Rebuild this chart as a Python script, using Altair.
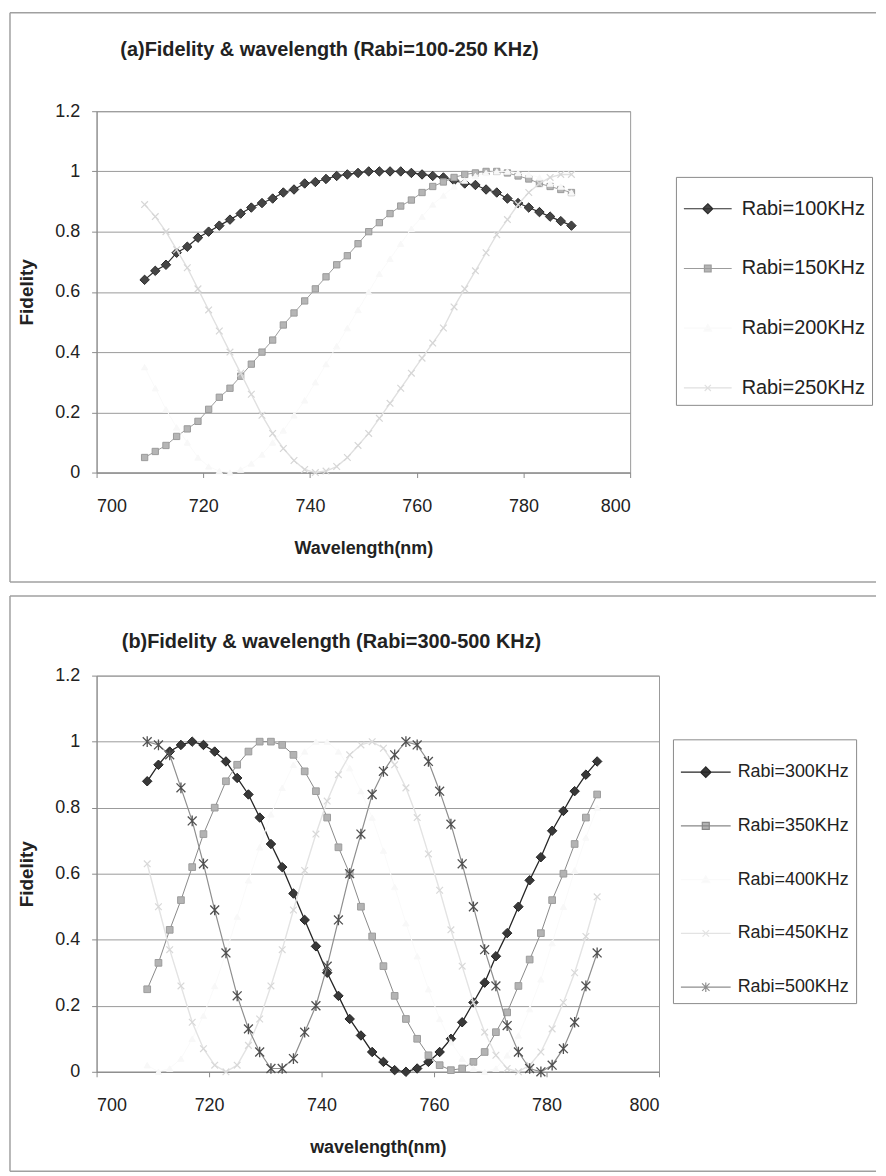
import altair as alt
import pandas as pd

FONT = "Liberation Sans"

# ---------------- data ----------------
wavelengths = [709, 711, 713, 715, 717, 719, 721, 723, 725, 727,
               729, 731, 733, 735, 737, 739, 741, 743, 745, 747,
               749, 751, 753, 755, 757, 759, 761, 763, 765, 767,
               769, 771, 773, 775, 777, 779, 781, 783, 785, 787, 789]

# panel (a)
rabi_100 = [0.64, 0.67, 0.69, 0.73, 0.75, 0.78, 0.80, 0.82, 0.84, 0.86,
            0.88, 0.895, 0.91, 0.93, 0.94, 0.96, 0.965, 0.975, 0.985, 0.99,
            0.995, 1.0, 1.0, 1.0, 1.0, 0.995, 0.99, 0.985, 0.98, 0.97,
            0.96, 0.955, 0.94, 0.93, 0.91, 0.895, 0.88, 0.865, 0.85, 0.835, 0.82]
rabi_150 = [0.05, 0.07, 0.09, 0.12, 0.145, 0.17, 0.21, 0.25, 0.28, 0.32,
            0.36, 0.40, 0.44, 0.49, 0.53, 0.57, 0.61, 0.65, 0.69, 0.72,
            0.76, 0.80, 0.83, 0.86, 0.885, 0.905, 0.93, 0.95, 0.965, 0.98,
            0.99, 0.995, 1.0, 1.0, 0.995, 0.985, 0.975, 0.96, 0.95, 0.94, 0.93]
rabi_200 = [0.35, 0.28, 0.21, 0.15, 0.10, 0.05, 0.02, 0.005, 0.0, 0.01,
            0.03, 0.06, 0.10, 0.14, 0.19, 0.24, 0.30, 0.36, 0.42, 0.48,
            0.54, 0.60, 0.66, 0.71, 0.76, 0.81, 0.85, 0.89, 0.92, 0.95,
            0.97, 0.985, 0.995, 1.0, 1.0, 0.995, 0.99, 0.98, 0.96, 0.95, 0.93]
rabi_250 = [0.89, 0.85, 0.80, 0.74, 0.68, 0.61, 0.54, 0.47, 0.40, 0.33,
            0.26, 0.19, 0.13, 0.08, 0.04, 0.01, 0.0, 0.005, 0.02, 0.05,
            0.09, 0.13, 0.18, 0.23, 0.28, 0.33, 0.38, 0.43, 0.48, 0.55,
            0.61, 0.67, 0.73, 0.79, 0.84, 0.89, 0.93, 0.96, 0.98, 0.99, 0.99]

# panel (b)
rabi_300 = [0.88, 0.93, 0.97, 0.99, 1.0, 0.99, 0.97, 0.94, 0.89, 0.84,
            0.77, 0.69, 0.62, 0.54, 0.46, 0.38, 0.30, 0.23, 0.16, 0.11,
            0.06, 0.03, 0.005, 0.0, 0.01, 0.03, 0.06, 0.10, 0.15, 0.21,
            0.27, 0.35, 0.42, 0.50, 0.58, 0.65, 0.73, 0.79, 0.85, 0.90, 0.94]
rabi_350 = [0.25, 0.33, 0.43, 0.52, 0.62, 0.72, 0.80, 0.88, 0.93, 0.97,
            1.0, 1.0, 0.99, 0.96, 0.91, 0.85, 0.77, 0.68, 0.60, 0.50,
            0.41, 0.32, 0.23, 0.16, 0.10, 0.05, 0.02, 0.005, 0.01, 0.03,
            0.06, 0.12, 0.18, 0.26, 0.34, 0.42, 0.52, 0.60, 0.69, 0.77, 0.84]
rabi_400 = [0.02, 0.0, 0.01, 0.04, 0.10, 0.17, 0.26, 0.36, 0.47, 0.58,
            0.68, 0.78, 0.86, 0.93, 0.97, 1.0, 1.0, 0.97, 0.92, 0.85,
            0.77, 0.67, 0.56, 0.45, 0.35, 0.25, 0.16, 0.09, 0.04, 0.01,
            0.0, 0.01, 0.05, 0.11, 0.19, 0.28, 0.39, 0.50, 0.61, 0.71, 0.80]
rabi_450 = [0.63, 0.50, 0.37, 0.26, 0.15, 0.07, 0.02, 0.0, 0.02, 0.08,
            0.16, 0.26, 0.37, 0.49, 0.61, 0.72, 0.82, 0.90, 0.96, 0.99,
            1.0, 0.98, 0.93, 0.86, 0.77, 0.66, 0.55, 0.43, 0.32, 0.21,
            0.12, 0.05, 0.01, 0.0, 0.02, 0.06, 0.13, 0.21, 0.30, 0.41, 0.53]
rabi_500 = [1.0, 0.99, 0.96, 0.86, 0.76, 0.63, 0.49, 0.36, 0.23, 0.13,
            0.06, 0.01, 0.01, 0.04, 0.12, 0.20, 0.32, 0.46, 0.60, 0.72,
            0.84, 0.91, 0.96, 1.0, 0.99, 0.94, 0.85, 0.75, 0.63, 0.50,
            0.37, 0.26, 0.14, 0.06, 0.01, 0.0, 0.02, 0.07, 0.15, 0.26, 0.36]

names_a = ["Rabi=100KHz", "Rabi=150KHz", "Rabi=200KHz", "Rabi=250KHz"]
values_a = [rabi_100, rabi_150, rabi_200, rabi_250]
names_b = ["Rabi=300KHz", "Rabi=350KHz", "Rabi=400KHz", "Rabi=450KHz", "Rabi=500KHz"]
values_b = [rabi_300, rabi_350, rabi_400, rabi_450, rabi_500]

x_ticks = [700, 720, 740, 760, 780, 800]
y_ticks = [0, 0.2, 0.4, 0.6, 0.8, 1.0, 1.2]

# ---------------- styles ----------------
DIAMOND = "M0,-1L1,0L0,1L-1,0Z"
XMARK = "M-1,-1L1,1M-1,1L1,-1"
STAR = "M-1,-1L1,1M-1,1L1,-1M0,-1.2L0,1.2"

LEG_DIAMOND = "M-1,0L1,0M0,-0.21L0.21,0L0,0.21L-0.21,0Z"
LEG_SQUARE = "M-1,0L1,0M-0.14,-0.14L0.14,-0.14L0.14,0.14L-0.14,0.14Z"
LEG_TRI = "M-1,0L1,0M0,-0.16L0.16,0.12L-0.16,0.12Z"
LEG_X = "M-1,0L1,0M-0.13,-0.13L0.13,0.13M-0.13,0.13L0.13,-0.13"
LEG_STAR = "M-1,0L1,0M-0.15,-0.15L0.15,0.15M-0.15,0.15L0.15,-0.15M0,-0.19L0,0.19"

styles = {
    "Rabi=100KHz": dict(line="#2e2e2e", lw=1.2, shape=DIAMOND, size=90, filled=True, fill="#454545", stroke="#2a2a2a", sw=1, leg=LEG_DIAMOND),
    "Rabi=150KHz": dict(line="#9c9c9c", lw=1.0, shape="square", size=40, filled=True, fill="#b5b5b5", stroke="#9a9a9a", sw=1, leg=LEG_SQUARE),
    "Rabi=200KHz": dict(line="#fafafa", lw=1.0, shape="triangle-up", size=40, filled=True, fill="#f8f8f8", stroke="#f8f8f8", sw=1, leg=LEG_TRI),
    "Rabi=250KHz": dict(line="#e0e0e0", lw=1.4, shape=XMARK, size=45, filled=False, fill="#d6d6d6", stroke="#d6d6d6", sw=1.2, leg=LEG_X),
    "Rabi=300KHz": dict(line="#262626", lw=1.3, shape=DIAMOND, size=90, filled=True, fill="#383838", stroke="#222222", sw=1, leg=LEG_DIAMOND),
    "Rabi=350KHz": dict(line="#888888", lw=1.0, shape="square", size=45, filled=True, fill="#b3b3b3", stroke="#9c9c9c", sw=1, leg=LEG_SQUARE),
    "Rabi=400KHz": dict(line="#fafafa", lw=1.0, shape="triangle-up", size=40, filled=True, fill="#f8f8f8", stroke="#f8f8f8", sw=1, leg=LEG_TRI),
    "Rabi=450KHz": dict(line="#e3e3e3", lw=1.4, shape=XMARK, size=45, filled=False, fill="#d8d8d8", stroke="#d8d8d8", sw=1.2, leg=LEG_X),
    "Rabi=500KHz": dict(line="#8e8e8e", lw=1.2, shape=STAR, size=80, filled=False, fill="#555555", stroke="#505050", sw=1.3, leg=LEG_STAR),
}


def long_frame(names, values):
    rows = []
    for n, vals in zip(names, values):
        for w, v in zip(wavelengths, vals):
            rows.append({"wavelength": w, "fidelity": v, "series": n})
    return pd.DataFrame(rows)


def make_panel(names, values, W, H, title, title_x, title_y, xtitle,
               leg_x, leg_y, leg_font, leg_sym, leg_rowpad, leg_offset,
               box_top, box_bottom, box_left, box_right):
    df = long_frame(names, values)
    x = alt.X("wavelength:Q",
              scale=alt.Scale(domain=[700, 800], nice=False, zero=False),
              axis=alt.Axis(values=x_ticks, format="d", title=xtitle, grid=False,
                            domainColor="#8a8a8a", tickColor="#8a8a8a", tickSize=5,
                            labelFont=FONT, labelFontSize=18, labelColor="#222",
                            labelPadding=20,
                            titleFont=FONT, titleFontSize=18, titleFontWeight="bold",
                            titleColor="#222", titleX=W / 2, titleY=76,
                            titleBaseline="middle", titleAlign="center"))
    y = alt.Y("fidelity:Q",
              scale=alt.Scale(domain=[0, 1.2], nice=False),
              axis=alt.Axis(values=y_ticks, format="~g", title="Fidelity", grid=True,
                            gridColor="#9a9a9a", gridWidth=1,
                            domainColor="#8a8a8a", tickColor="#8a8a8a", tickSize=5,
                            labelFont=FONT, labelFontSize=18, labelColor="#222",
                            labelPadding=12,
                            titleFont=FONT, titleFontSize=19, titleFontWeight="bold",
                            titleColor="#222", titleX=-70, titleY=H / 2,
                            titleBaseline="middle", titleAlign="center"))
    layers = []
    for n in names:
        st = styles[n]
        base = alt.Chart(df).transform_filter(alt.datum.series == n)
        layers.append(base.mark_line(color=st["line"], strokeWidth=st["lw"]).encode(x=x, y=y))
        if st["filled"]:
            pm = base.mark_point(shape=st["shape"], filled=True, fill=st["fill"], stroke=st["stroke"],
                                 strokeWidth=st["sw"], size=st["size"], opacity=1)
        else:
            pm = base.mark_point(shape=st["shape"], filled=False, color=st["stroke"],
                                 strokeWidth=st["sw"], size=st["size"], opacity=1)
        layers.append(pm.encode(x=x, y=y))

    legend = alt.Legend(title=None, orient="none", legendX=leg_x, legendY=leg_y,
                        labelFont=FONT, labelFontSize=leg_font, labelColor="#222",
                        symbolSize=leg_sym, symbolStrokeWidth=1.2, rowPadding=leg_rowpad,
                        labelOffset=leg_offset, strokeColor="#8a8a8a", fillColor="white",
                        padding=7, labelLimit=300)
    leg_layer = alt.Chart(df).transform_filter("datum.fidelity > 5").mark_point(filled=True, opacity=1).encode(
        x=x, y=y,
        shape=alt.Shape("series:N", scale=alt.Scale(domain=names, range=[styles[n]["leg"] for n in names]), legend=legend),
        fill=alt.Fill("series:N", scale=alt.Scale(domain=names, range=[styles[n]["fill"] for n in names]), legend=legend),
        stroke=alt.Stroke("series:N", scale=alt.Scale(domain=names, range=[styles[n]["line"] for n in names]), legend=legend),
    )
    layers.append(leg_layer)

    one = pd.DataFrame({"k": [0]})
    deco = alt.Chart(one)
    title_mark = deco.mark_text(font=FONT, fontSize=20, fontWeight="bold", color="#222",
                                align="center", baseline="middle").encode(
        x=alt.value(title_x), y=alt.value(title_y), text=alt.value(title))
    top_rule = deco.mark_rule(color="#a0a0a0", strokeWidth=1.5).encode(
        x=alt.value(box_left), x2=alt.value(box_right), y=alt.value(box_top))
    bottom_rule = deco.mark_rule(color="#a0a0a0", strokeWidth=1.5).encode(
        x=alt.value(box_left), x2=alt.value(box_right), y=alt.value(box_bottom))
    left_rule = deco.mark_rule(color="#a0a0a0", strokeWidth=1.5).encode(
        x=alt.value(box_left), y=alt.value(box_top), y2=alt.value(box_bottom))
    layers += [title_mark, top_rule, bottom_rule, left_rule]

    return alt.layer(*layers).properties(width=W, height=H).resolve_scale(
        shape="independent", fill="independent", stroke="independent")


panel_a = make_panel(names_a, values_a, W=536, H=363,
                     title="(a)Fidelity & wavelength (Rabi=100-250 KHz)",
                     title_x=234, title_y=-61, xtitle="Wavelength(nm)",
                     leg_x=582, leg_y=66, leg_font=20, leg_sym=2304, leg_rowpad=25, leg_offset=9,
                     box_top=-99, box_bottom=473, box_left=-87, box_right=783)

panel_b = make_panel(names_b, values_b, W=565, H=398,
                     title="(b)Fidelity & wavelength (Rabi=300-500 KHz)",
                     title_x=236, title_y=-34, xtitle="wavelength(nm)",
                     leg_x=579, leg_y=64, leg_font=18, leg_sym=2500, leg_rowpad=19, leg_offset=6,
                     box_top=-80, box_bottom=498, box_left=-87, box_right=783)

chart = alt.vconcat(panel_a, panel_b, spacing=10).resolve_scale(
    shape="independent", fill="independent", stroke="independent",
    x="independent", y="independent"
).resolve_legend(shape="independent", fill="independent", stroke="independent").properties(
    padding=0, background="white"
).configure_view(stroke="#9a9a9a", strokeWidth=1)

chart.save("out.html", embed_options={"renderer": "svg", "actions": False})
